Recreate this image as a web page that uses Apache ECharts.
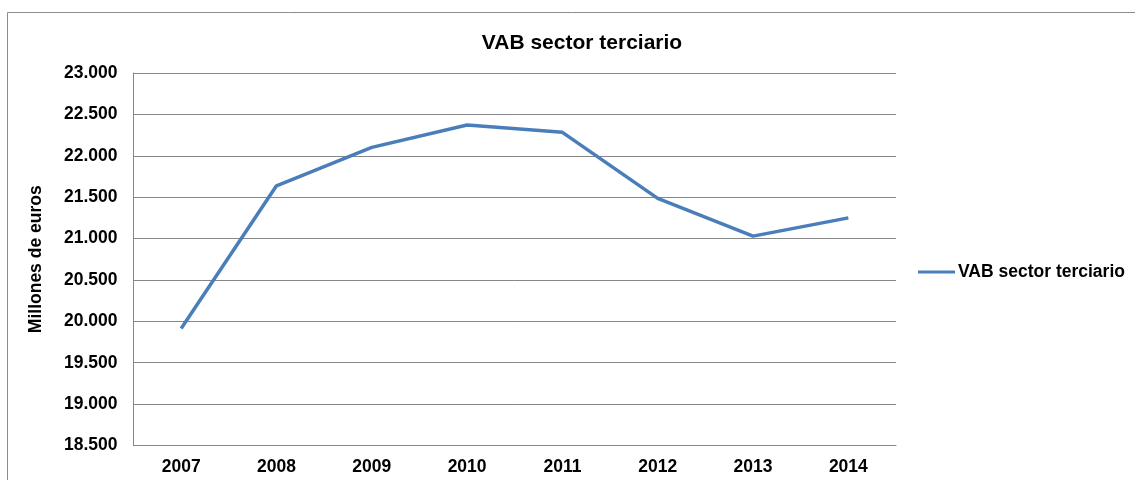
<!DOCTYPE html>
<html>
<head>
<meta charset="utf-8">
<title>VAB sector terciario</title>
<script src="https://cdn.jsdelivr.net/npm/echarts@6/dist/echarts.min.js"></script>
<style>
  html, body { margin: 0; padding: 0; background: #fff; }
  #chart { width: 1135px; height: 480px; }
</style>
</head>
<body>
<div id="chart"></div>
<script>
// años y valores (millones de euros)
var years = ['2007', '2008', '2009', '2010', '2011', '2012', '2013', '2014'];
var vabTerciario = [19913, 21637, 22102, 22371, 22283, 21485, 21029, 21250];
var seriesName = 'VAB sector terciario';
var yName = 'Millones de euros';

var font = 'Liberation Sans, Arial, sans-serif';

var chart = echarts.init(document.getElementById('chart'));
chart.setOption({
  animation: false,
  backgroundColor: '#fff',
  textStyle: { fontFamily: font },
  graphic: [{
    type: 'rect',
    shape: { x: 7.5, y: 12.5, width: 1300, height: 600 },
    style: { fill: 'none', stroke: '#8c8c8c', lineWidth: 1 },
    silent: true
  }],
  title: {
    text: 'VAB sector terciario',
    left: 577,
    textAlign: 'center',
    top: 28,
    textStyle: { fontFamily: font, fontSize: 21, fontWeight: 'bold', color: '#000' }
  },
  legend: {
    data: [seriesName],
    left: 918,
    top: 263,
    padding: 0,
    icon: 'rect',
    itemWidth: 37,
    itemHeight: 3,
    itemGap: 10,
    textStyle: { fontFamily: font, fontSize: 17.5, fontWeight: 'bold', color: '#000', padding: [0, 0, 0, -2] }
  },
  grid: { left: 133.5, right: 239, top: 73, bottom: 34.5 },
  xAxis: {
    type: 'category',
    data: years,
    boundaryGap: true,
    axisLine: { lineStyle: { color: '#868686', width: 1 } },
    axisTick: { show: false },
    axisLabel: { color: '#000', fontFamily: font, fontSize: 17.5, fontWeight: 'bold', margin: 13 }
  },
  yAxis: {
    type: 'value',
    min: 18500,
    max: 23000,
    interval: 500,
    name: yName,
    nameLocation: 'middle',
    nameRotate: 90,
    nameGap: 88,
    nameTextStyle: { color: '#000', fontFamily: font, fontSize: 17.5, fontWeight: 'bold' },
    axisLine: { show: true, lineStyle: { color: '#868686', width: 1 } },
    axisTick: { show: false },
    axisLabel: {
      color: '#000', fontFamily: font, fontSize: 17.5, fontWeight: 'bold', margin: 16,
      formatter: function (v) {
        var s = String(v);
        return s.slice(0, s.length - 3) + '.' + s.slice(-3);
      }
    },
    splitLine: { show: true, lineStyle: { color: '#868686', width: 1 } }
  },
  series: [{
    name: seriesName,
    type: 'line',
    data: vabTerciario,
    symbol: 'none',
    lineStyle: { color: '#4a7ebb', width: 3.5 },
    itemStyle: { color: '#4a7ebb' }
  }]
});
</script>
</body>
</html>
